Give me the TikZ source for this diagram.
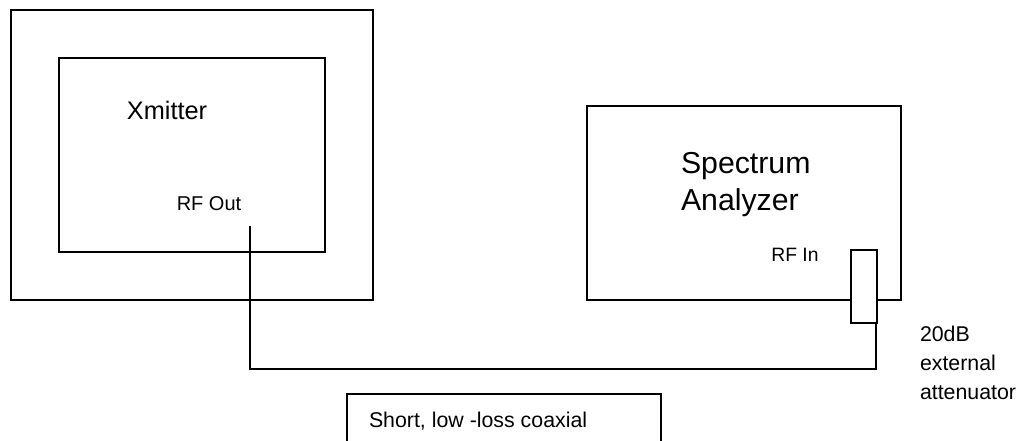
\documentclass[tikz,border=0pt]{standalone}
\usepackage{fontspec}
\setmainfont{Liberation Sans}
\tikzset{
	box/.style={draw, line width=1.5pt, fill=white, inner sep=0pt},
	lbl/.style={inner sep=0pt, font=\fontsize{16}{21.75}\selectfont},
}

\begin{document}
\begin{tikzpicture}[x=0.75pt, y=-0.75pt, line width=1.5pt]
			%%%%% START %%%%%
			\useasboundingbox (0, 0) rectangle (1029, 441);
			
			% shielded enclosure and transmitter
			\draw (11, 10) rectangle (373, 300);
			\draw (59, 58) rectangle (325, 252);
			\node[lbl, font=\fontsize{19}{22}\selectfont] (xmit) at (167, 110) {Xmitter};
			\node[lbl, font=\fontsize{15}{18}\selectfont] (rfoutlbl) at (209, 204) {RF Out};
			\coordinate (rfout) at (250, 226);
			
			% analyzer
			\draw (587, 106) rectangle (901, 300);
			\node[lbl, font=\fontsize{22.7}{27.75}\selectfont, align=left, anchor=west] (sa) at (680, 185) {Spectrum\\Analyzer};
			\node[lbl, font=\fontsize{14.5}{18}\selectfont] (rfinlbl) at (795, 255) {RF In};
			
			% attenuator
			\node[box, minimum width=19.5pt, minimum height=54.75pt] (atten) at (864, 286.5) {};
			\node[lbl, align=left, anchor=west] (attenlbl) at (919, 363) {20dB\\external\\attenuator};
			
			% coax
			\draw (rfout) -- ++(0, 143) -| ([xshift=-1.5pt]atten.south east);
			\draw (347, 445) -- (347, 394) -- (661, 394) -- (661, 445);
			\node[lbl, anchor=west] (coax) at (368, 421.5) {Short, low -loss coaxial};
			
			%%%%% END %%%%%
		\end{tikzpicture}
\end{document}
